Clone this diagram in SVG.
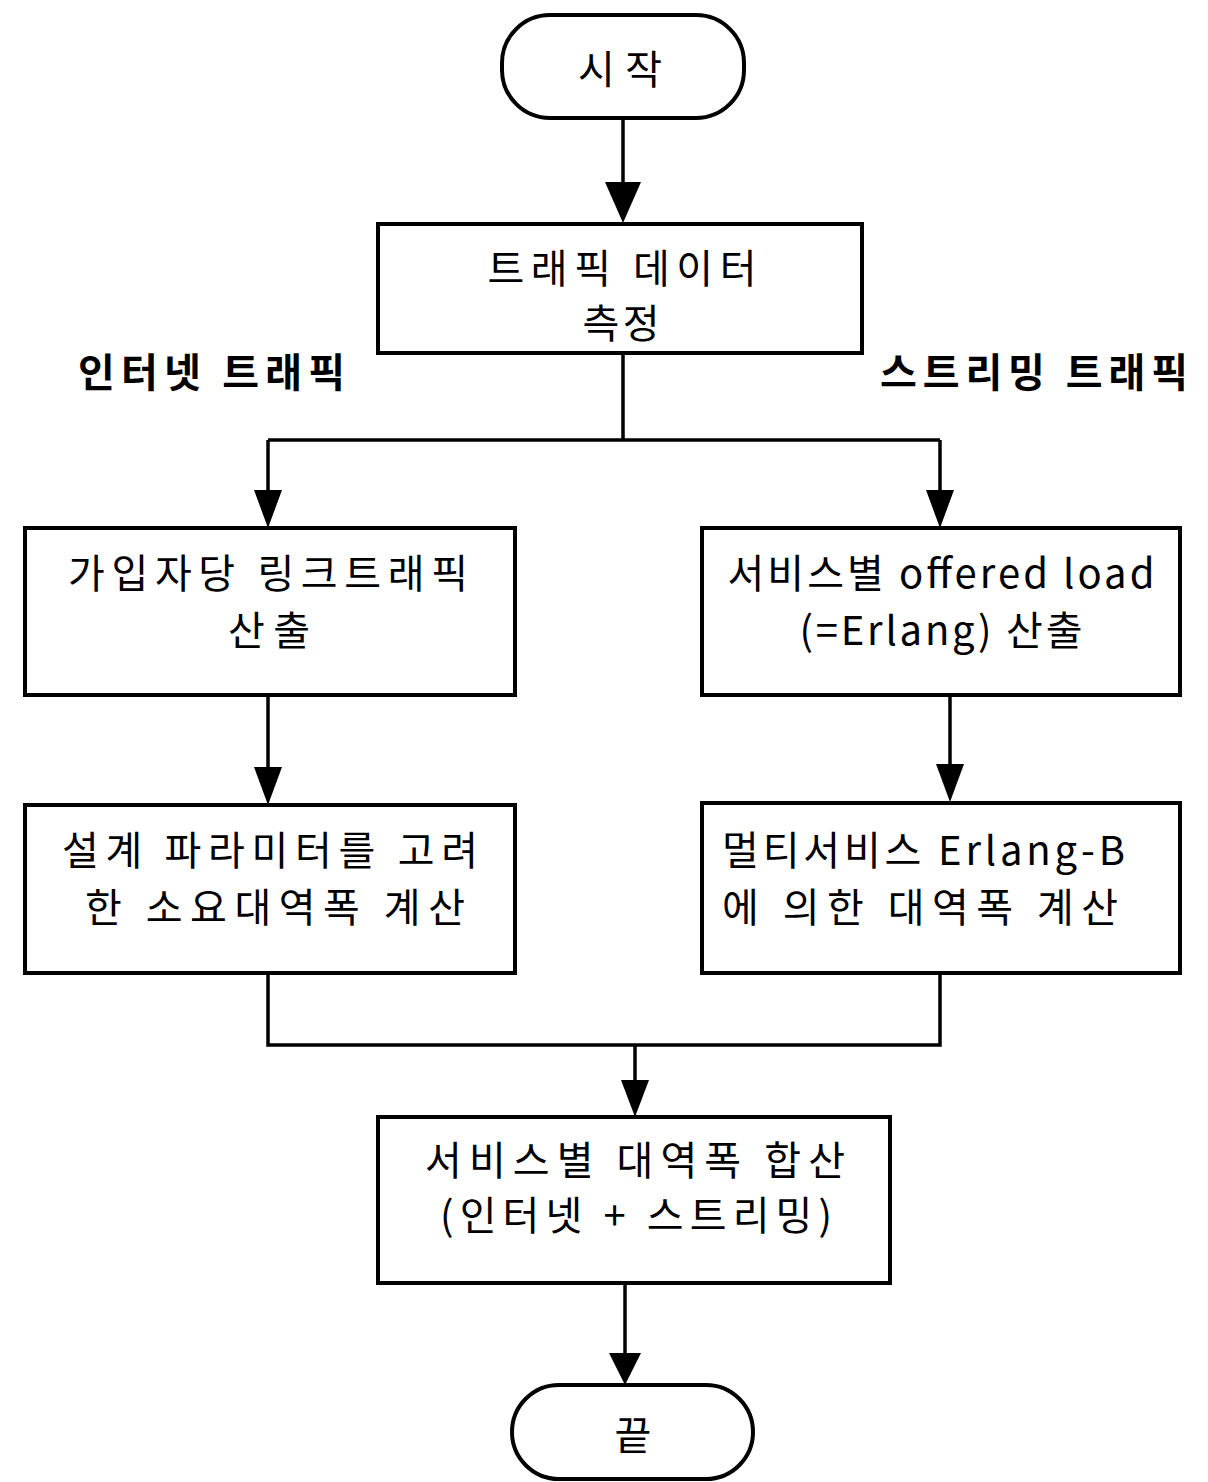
<svg xmlns="http://www.w3.org/2000/svg" width="1208" height="1482" viewBox="0 0 1208 1482">
<style>
.box{fill:#fff;stroke:#000;stroke-width:4}
.ln{fill:none;stroke:#000;stroke-width:3.5}
.ah{fill:#000}
.t{font-family:"Noto Sans CJK KR","Liberation Sans",sans-serif;font-size:40px;fill:#000;text-anchor:middle}
.ts{font-family:"Noto Sans CJK KR","Liberation Sans",sans-serif;font-size:40px;fill:#000}
.b{font-family:"Noto Sans CJK KR","Liberation Sans",sans-serif;font-size:40px;font-weight:bold;fill:#000}
</style>
<g id="connectors">
<path class="ln" d="M623,118 V182"/>
<polygon class="ah" points="605,182 641,182 623,223"/>
<path class="ln" d="M623,353 V440 M268,440 H940"/>
<path class="ln" d="M268,440 V490"/>
<polygon class="ah" points="254,490 282,490 268,528"/>
<path class="ln" d="M940,440 V490"/>
<polygon class="ah" points="926,490 954,490 940,528"/>
<path class="ln" d="M268,695 V767"/>
<polygon class="ah" points="254,767 282,767 268,805"/>
<path class="ln" d="M950,695 V764"/>
<polygon class="ah" points="936,764 964,764 950,802"/>
<path class="ln" d="M268,973 V1045 H940 V973"/>
<path class="ln" d="M635,1045 V1080"/>
<polygon class="ah" points="621,1080 649,1080 635,1117"/>
<path class="ln" d="M625,1283 V1353"/>
<polygon class="ah" points="609,1353 641,1353 625,1385"/>
</g>
<g id="start">
<rect class="box" x="502" y="15" width="242" height="103" rx="48" ry="48"/>
<text class="t" x="620" y="84" textLength="84" lengthAdjust="spacing">시작</text>
</g>
<g id="measure">
<rect class="box" x="378" y="224" width="484" height="129"/>
<text class="t" x="622" y="283" textLength="269" lengthAdjust="spacing">트래픽 데이터</text>
<text class="t" x="621" y="338" textLength="77" lengthAdjust="spacing">측정</text>
</g>
<g id="label-internet">
<text class="b" x="78" y="387" textLength="267" lengthAdjust="spacing">인터넷 트래픽</text>
</g>
<g id="label-streaming">
<text class="b" x="880" y="387" textLength="308" lengthAdjust="spacing">스트리밍 트래픽</text>
</g>
<g id="link-traffic">
<rect class="box" x="25" y="528" width="490" height="167"/>
<text class="t" x="268" y="588" textLength="400" lengthAdjust="spacing">가입자당 링크트래픽</text>
<text class="t" x="269" y="645" textLength="82" lengthAdjust="spacing">산출</text>
</g>
<g id="offered-load">
<rect class="box" x="702" y="528" width="478" height="167"/>
<text class="t" x="941" y="588" textLength="427" lengthAdjust="spacing">서비스별 offered load</text>
<text class="t" x="941" y="645" textLength="283" lengthAdjust="spacing">(=Erlang) 산출</text>
</g>
<g id="required-bw">
<rect class="box" x="25" y="805" width="490" height="168"/>
<text class="t" x="270" y="865" textLength="416" lengthAdjust="spacing">설계 파라미터를 고려</text>
<text class="t" x="275" y="922" textLength="380" lengthAdjust="spacing">한 소요대역폭 계산</text>
</g>
<g id="erlang-b">
<rect class="box" x="702" y="803" width="478" height="170"/>
<text class="ts" x="722" y="865" textLength="403" lengthAdjust="spacing">멀티서비스 Erlang-B</text>
<text class="ts" x="722" y="922" textLength="396" lengthAdjust="spacing">에 의한 대역폭 계산</text>
</g>
<g id="sum">
<rect class="box" x="378" y="1117" width="512" height="166"/>
<text class="t" x="635" y="1175" textLength="420" lengthAdjust="spacing">서비스별 대역폭 합산</text>
<text class="t" x="636" y="1230" textLength="392" lengthAdjust="spacing">(인터넷 + 스트리밍)</text>
</g>
<g id="end">
<rect class="box" x="512" y="1385" width="241" height="94" rx="47" ry="47"/>
<text class="t" x="633" y="1450">끝</text>
</g>
</svg>
